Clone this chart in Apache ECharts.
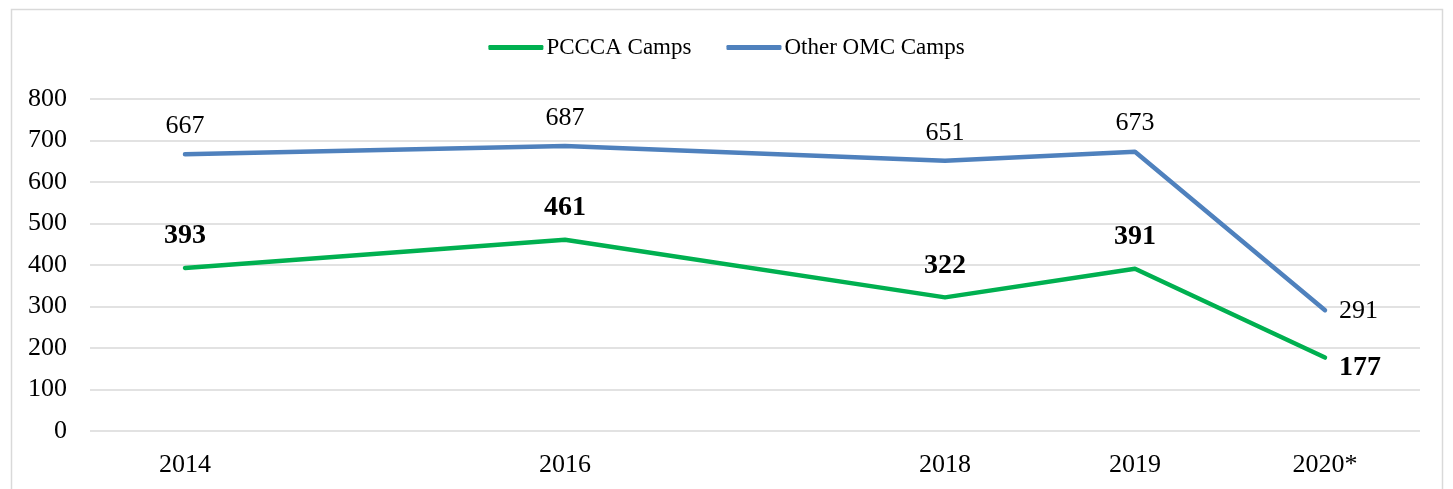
<!DOCTYPE html>
<html><head><meta charset="utf-8">
<script src="https://cdn.jsdelivr.net/npm/echarts@6/dist/echarts.min.js"></script>
<style>html,body{margin:0;padding:0;background:#fff}#c{width:1453px;height:489px}</style>
</head><body><div id="c"></div>
<script>
const years = [2014, 2016, 2018, 2019, 2020];
const tickLabels = ['2014', '2016', '2018', '2019', '2020*'];
const pccca = [393, 461, 322, 391, 177];
const otherOmc = [667, 687, 651, 673, 291];
const yTicks = [0, 100, 200, 300, 400, 500, 600, 700, 800];

const font = '"Liberation Serif", "DejaVu Serif", serif';
const chart = echarts.init(document.getElementById('c'));
const labelOf = v => { const i = years.indexOf(Math.round(v)); return i >= 0 ? tickLabels[i] : ''; };
chart.setOption({
  animation: false,
  graphic: [{type: 'rect', shape: {x: 11.5, y: 9.5, width: 1431, height: 500}, style: {fill: 'none', stroke: '#d9d9d9', lineWidth: 1.5}, z: -1}],
  legend: {
    top: 31, left: 'center', itemWidth: 55, itemHeight: 5, itemGap: 35,
    icon: 'roundRect',
    textStyle: {fontFamily: font, fontSize: 23, color: '#000', padding: [0,0,0,-2]},
    data: ['PCCCA Camps', 'Other OMC Camps']
  },
  grid: {left: 90, right: 33, top: 99, bottom: 58, containLabel: false},
  xAxis: {
    type: 'value', min: 2013.5, max: 2020.5,
    axisLine: {show: false}, axisTick: {show: false}, splitLine: {show: false},
    axisLabel: {customValues: years, formatter: labelOf, fontFamily: font, fontSize: 26, color: '#000', margin: 21}
  },
  yAxis: {
    type: 'value', min: 0, max: 800, interval: 100,
    axisLine: {show: false}, axisTick: {show: false},
    splitLine: {lineStyle: {color: '#d9d9d9', width: 1.5}},
    axisLabel: {fontFamily: font, fontSize: 26, color: '#000', margin: 23}
  },
  series: [
    {
      name: 'PCCCA Camps', type: 'line', symbol: 'circle', symbolSize: 0.1, showSymbol: true,
      lineStyle: {color: '#00B050', width: 4.5, cap: 'round', join: 'round'},
      itemStyle: {color: '#00B050'},
      data: years.map((y, i) => ({value: [y, pccca[i]],
        label: i === years.length - 1 ? {position: 'right', offset: [9, 10]} : {position: 'top', distance: 18}})),
      label: {show: true, formatter: p => p.value[1], fontFamily: font, fontSize: 28, fontWeight: 'bold', color: '#000'}
    },
    {
      name: 'Other OMC Camps', type: 'line', symbol: 'circle', symbolSize: 0.1, showSymbol: true,
      lineStyle: {color: '#4F81BD', width: 4.5, cap: 'round', join: 'round'},
      itemStyle: {color: '#4F81BD'},
      data: years.map((y, i) => ({value: [y, otherOmc[i]],
        label: i === years.length - 1 ? {position: 'right', offset: [9, 1]} : {position: 'top', distance: 15}})),
      label: {show: true, formatter: p => p.value[1], fontFamily: font, fontSize: 26, color: '#000'}
    }
  ]
});
</script></body></html>
